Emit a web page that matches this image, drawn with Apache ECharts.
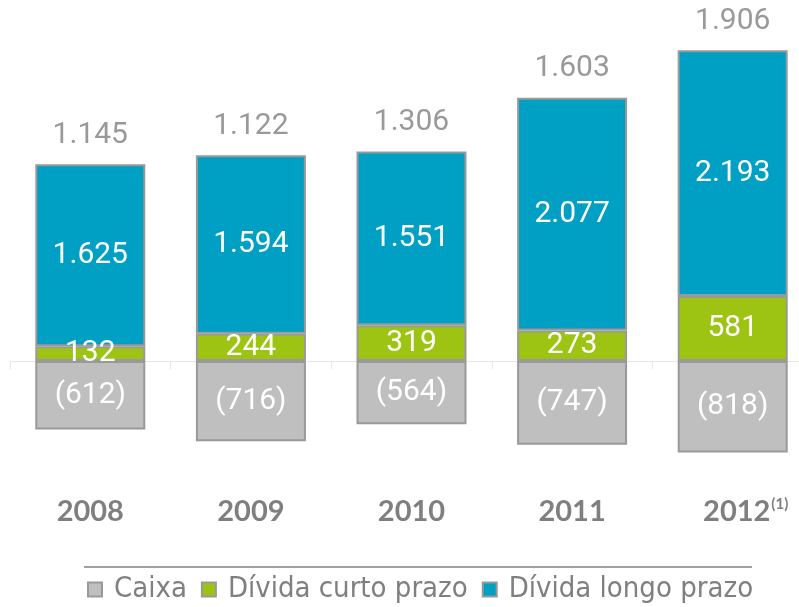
<!DOCTYPE html>
<html>
<head>
<meta charset="utf-8">
<script src="https://cdn.jsdelivr.net/npm/echarts@6/dist/echarts.min.js"></script>
<style>
  html, body { margin: 0; padding: 0; background: #fff; }
  #chart { width: 799px; height: 607px; }
</style>
</head>
<body>
<div id="chart"></div>
<script>
const anos = ['2008', '2009', '2010', '2011', '2012']
const caixa = [-612, -716, -564, -747, -818]
const curtoPrazo = [132, 244, 319, 273, 581]
const longoPrazo = [1625, 1594, 1551, 2077, 2193]
const dividaLiquida = [1145, 1122, 1306, 1603, 1906]

// 1.625 / (612)
const fmt = (v) => {
    let s = String(Math.abs(v)).replace(/\B(?=(\d{3})+(?!\d))/g, '.')
    return v < 0 ? '(' + s + ')' : s
}

const cinza = '#999999'
const inside = {
    show: true,
    position: 'inside',
    color: '#fff',
    fontFamily: 'Roboto',
    fontSize: 30,
    formatter: (p) => fmt(p.value),
}

// topo da pilha positiva, onde fica o rótulo da dívida líquida
const topo = curtoPrazo.map((v, i) => v + longoPrazo[i])

let chart = echarts.init(document.getElementById('chart'))
let option = {
    animation: false,
    grid: { left: 10, width: 803, top: 25, bottom: 134, outerBoundsMode: 'none', containLabel: false },
    legend: {
        data: ['Caixa', 'Dívida curto prazo', 'Dívida longo prazo'],
        left: 82,
        top: 575,
        padding: [0, 5],
        icon: 'rect',
        itemWidth: 14,
        itemHeight: 14,
        itemGap: 14,
        textStyle: {
            color: '#7f7f7f',
            fontFamily: 'DejaVu Sans Condensed',
            fontSize: 29,
            padding: [0, 0, 0, 7],
        },
    },
    xAxis: {
        type: 'category',
        data: anos,
        axisLine: { onZero: true, lineStyle: { color: '#e6e6e6', width: 1 } },
        axisTick: { show: true, length: 8, lineStyle: { color: '#e6e6e6' } },
        axisLabel: {
            interval: 0,
            margin: 24,
            color: '#7f7f7f',
            fontFamily: 'Lato',
            fontWeight: 'bold',
            fontSize: 29,
            formatter: (v, i) => i === anos.length - 1 ? '{a|' + v + '}{s|(1)}' : v,
            rich: {
                a: { color: '#7f7f7f', fontFamily: 'Lato', fontWeight: 'bold', fontSize: 29, padding: [0, 0, 0, 26] },
                s: { color: '#7f7f7f', fontFamily: 'Lato', fontSize: 15, padding: [0, 0, 14, 1] },
            },
        },
    },
    yAxis: {
        type: 'value',
        min: -1000,
        max: 3000,
        show: false,
        splitLine: { show: false },
    },
    series: [
        {
            name: 'Caixa',
            type: 'bar',
            stack: 'total',
            barWidth: 110,
            data: caixa,
            itemStyle: { color: '#bfbfbf', borderColor: cinza, borderWidth: 2 },
            label: inside,
        },
        {
            name: 'Dívida curto prazo',
            type: 'bar',
            stack: 'total',
            barWidth: 110,
            data: curtoPrazo,
            itemStyle: { color: '#9dc413', borderColor: cinza, borderWidth: 2 },
            label: inside,
        },
        {
            name: 'Dívida longo prazo',
            type: 'bar',
            stack: 'total',
            barWidth: 110,
            data: longoPrazo,
            itemStyle: { color: '#00a0c4', borderColor: cinza, borderWidth: 2 },
            label: inside,
        },
        {
            name: 'Dívida líquida',
            type: 'scatter',
            symbolSize: 0,
            data: topo,
            silent: true,
            label: {
                show: true,
                position: 'top',
                distance: 14,
                color: '#7f7f7f',
                fontFamily: 'Roboto',
                fontSize: 30,
                formatter: (p) => fmt(dividaLiquida[p.dataIndex]),
            },
        },
    ],
    graphic: [
        {
            type: 'line',
            shape: { x1: 84, y1: 567, x2: 752, y2: 567 },
            style: { stroke: '#808080', lineWidth: 1.5 },
        },
    ],
}
chart.setOption(option)
window.addEventListener('resize', () => {
    chart.resize()
})
</script>
</body>
</html>
